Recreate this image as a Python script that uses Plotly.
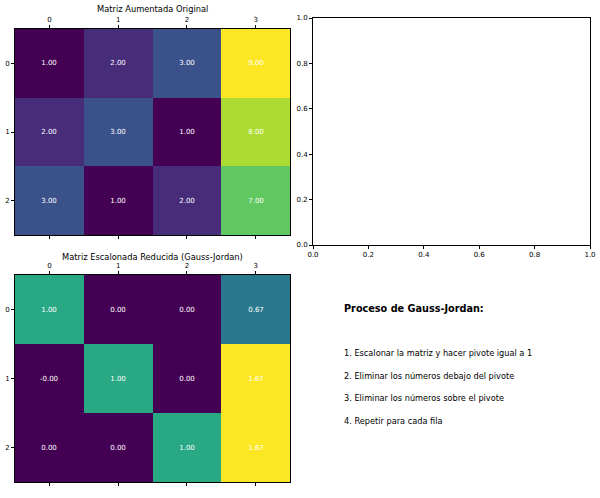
import plotly.graph_objects as go

# Data
cols = [0, 1, 2, 3]
rows = [0, 1, 2]
original = [
    [1.0, 2.0, 3.0, 9.0],
    [2.0, 3.0, 1.0, 8.0],
    [3.0, 1.0, 2.0, 7.0],
]
reduced = [
    [1.0, 0.0, 0.0, 2/3],
    [-0.0, 1.0, 0.0, 5/3],
    [0.0, 0.0, 1.0, 5/3],
]
title_original = "Matriz Aumentada Original"
title_reduced = "Matriz Escalonada Reducida (Gauss-Jordan)"
process_title = "Proceso de Gauss-Jordan:"
steps = [
    "1. Escalonar la matriz y hacer pivote igual a 1",
    "2. Eliminar los números debajo del pivote",
    "3. Eliminar los números sobre el pivote",
    "4. Repetir para cada fila",
]

W, H = 600, 498
FONT = "DejaVu Sans"

def fx(px):
    return px / W

def fy(py):
    return 1 - py / H

def txt(m):
    return [[f"{v:.2f}" for v in r] for r in m]

fig = go.Figure()
fig.add_trace(go.Heatmap(
    z=original, x=cols, y=rows, colorscale="Viridis",
    zmin=min(min(r) for r in original), zmax=max(max(r) for r in original),
    showscale=False, text=txt(original), texttemplate="%{text}",
    textfont=dict(color="white", size=7, family=FONT),
    xaxis="x", yaxis="y", hoverinfo="skip"))
fig.add_trace(go.Heatmap(
    z=reduced, x=cols, y=rows, colorscale="Viridis",
    zmin=min(min(r) for r in reduced), zmax=max(max(r) for r in reduced),
    showscale=False, text=txt(reduced), texttemplate="%{text}",
    textfont=dict(color="white", size=7, family=FONT),
    xaxis="x2", yaxis="y2", hoverinfo="skip"))
fig.add_trace(go.Scatter(x=[], y=[], xaxis="x3", yaxis="y3", showlegend=False))

tickfont = dict(size=7, family=FONT, color="black")
common = dict(showline=True, linecolor="black", linewidth=0.8, ticks="outside",
              ticklen=3, tickwidth=0.8, tickcolor="black", tickfont=tickfont,
              showgrid=False, zeroline=False, automargin=False)

hx = [fx(15), fx(290)]
fig.update_layout(
    width=W, height=H, margin=dict(l=0, r=0, t=0, b=0, pad=0, autoexpand=False),
    autosize=False,
    plot_bgcolor="white", paper_bgcolor="white",
    font=dict(family=FONT),
    showlegend=False,
    xaxis=dict(domain=hx, anchor="y", side="top", mirror="ticks",
               range=[-0.5, 3.5], tickvals=cols, **common),
    yaxis=dict(domain=[fy(235), fy(29)], anchor="x", mirror=True,
               range=[2.5, -0.5], tickvals=rows, **common),
    xaxis2=dict(domain=hx, anchor="y2", side="top", mirror="ticks",
                range=[-0.5, 3.5], tickvals=cols, **common),
    yaxis2=dict(domain=[fy(482), fy(275)], anchor="x2", mirror=True,
                range=[2.5, -0.5], tickvals=rows, **common),
    xaxis3=dict(domain=[fx(313), fx(590)], anchor="y3", mirror=True,
                range=[0, 1], tickvals=[0, 0.2, 0.4, 0.6, 0.8, 1.0],
                tickformat=".1f", **common),
    yaxis3=dict(domain=[fy(245), fy(18)], anchor="x3", mirror=True,
                range=[0, 1], tickvals=[0, 0.2, 0.4, 0.6, 0.8, 1.0],
                tickformat=".1f", **common),
)

ann = [
    dict(text=title_original, x=fx(152), y=fy(9), font=dict(size=8.3, family=FONT, color="black")),
    dict(text=title_reduced, x=fx(152), y=fy(257), font=dict(size=8.3, family=FONT, color="black")),
    dict(text="<b>" + process_title + "</b>", x=fx(342), y=fy(308), xanchor="left",
         font=dict(size=9.7, family=FONT, color="black")),
]
for i, s in enumerate(steps):
    ann.append(dict(text=s, x=fx(342), y=fy([353, 376, 398, 421][i]), xanchor="left",
                    font=dict(size=8.2, family=FONT, color="black")))
for a in ann:
    a.setdefault("xanchor", "center")
    a.update(xref="paper", yref="paper", yanchor="middle", showarrow=False)
fig.update_layout(annotations=ann)

fig.write_html("out.html")
